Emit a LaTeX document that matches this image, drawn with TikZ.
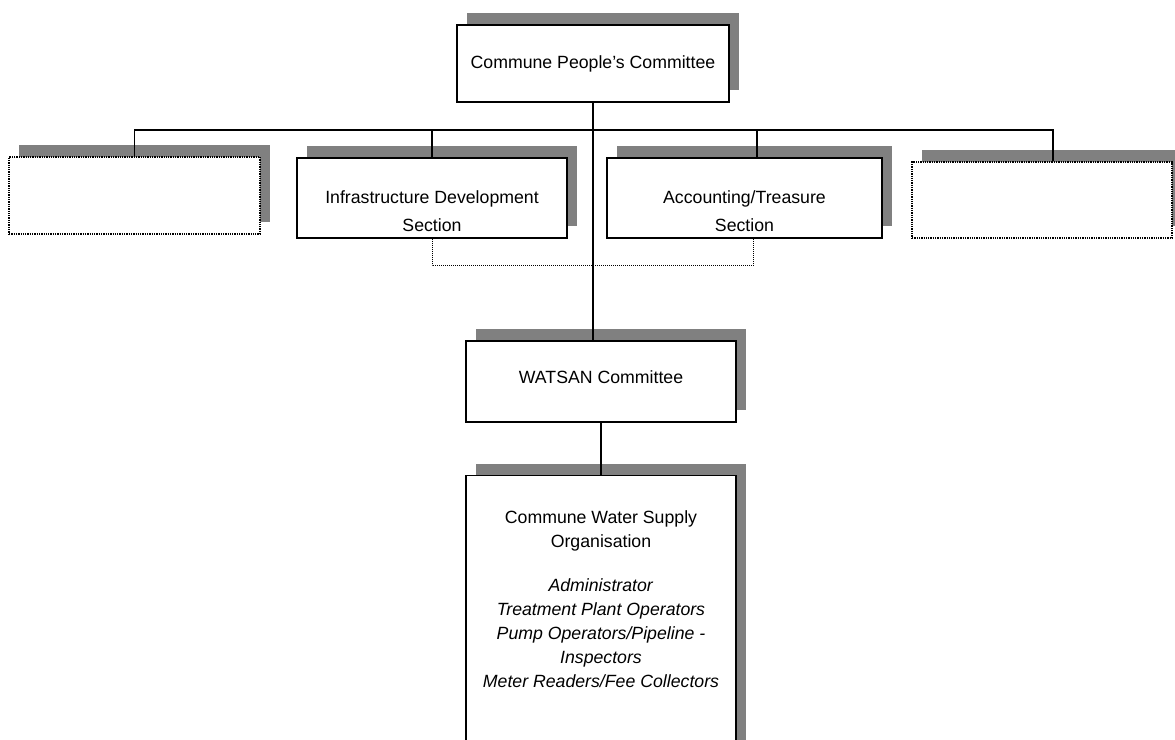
\documentclass[tikz,border=0pt]{standalone}
\usepackage{fontspec}
\setmainfont{Liberation Sans}
\usetikzlibrary{positioning,shadows}

\begin{document}
\begin{tikzpicture}[x=1pt,y=-1pt,
  org node/.style={rectangle,draw,line width=1.3pt,fill=white,inner sep=0pt,
    drop shadow={shadow xshift=10pt,shadow yshift=12pt,opacity=1,fill=black!50},
    font=\fontsize{17.7}{28}\selectfont,align=center},
  empty node/.style={org node,densely dotted,line width=1.2pt},
  link/.style={line width=1.6pt},
  main link/.style={line width=2.4pt},
  dot link/.style={densely dotted,line width=1pt}]

  \path[use as bounding box,fill=white] (0,0) rectangle (1175,739);
  \clip (0,0) rectangle (1175,739);

  \node[org node,minimum width=272pt,minimum height=77pt] (1) at (593,63.5) {Commune People's Committee};
  \node[empty node,minimum width=251pt,minimum height=77pt] (2) at (134.5,195.5) {};
  \node[org node,minimum width=270pt,minimum height=80pt] (3) at (432,198)
    {\rule{0pt}{40pt}Infrastructure Development\\Section};
  \node[org node,minimum width=275pt,minimum height=80pt] (4) at (744.5,198)
    {\rule{0pt}{40pt}Accounting/Treasure\\Section};
  \node[empty node,minimum width=260pt,minimum height=76pt] (5) at (1042,200) {};
  \node[org node,minimum width=270pt,minimum height=81pt,text depth=9pt] (6) at (601,381.5) {WATSAN Committee};
  \node[org node,minimum width=270pt,minimum height=300pt,anchor=north] (7) at (601,475) {};
  \node[below=35pt of 7.north,inner sep=0pt,align=center,font=\fontsize{17.7}{24}\selectfont] (8)
    {Commune Water Supply\\Organisation\\[20pt]
     \textit{Administrator}\\\textit{Treatment Plant Operators}\\
     \textit{Pump Operators/Pipeline -}\\\textit{Inspectors}\\
     \textit{Meter Readers/Fee Collectors}};

  \coordinate (bus) at (1.south |- 0,130);
  \draw[link] (2.north) |- (bus) -| ([xshift=11pt]5.north);
  \draw[link] (3.north) |- (bus);
  \draw[link] ([xshift=12.5pt]4.north) |- (bus);
  \draw[main link] (1.south) -- (1.south |- 6.north);
  \draw[main link] (6.south) -- (7.north);
  \draw[dot link] (3.south) -- ++(0,27) -| ([xshift=9pt]4.south);
\end{tikzpicture}
\end{document}
